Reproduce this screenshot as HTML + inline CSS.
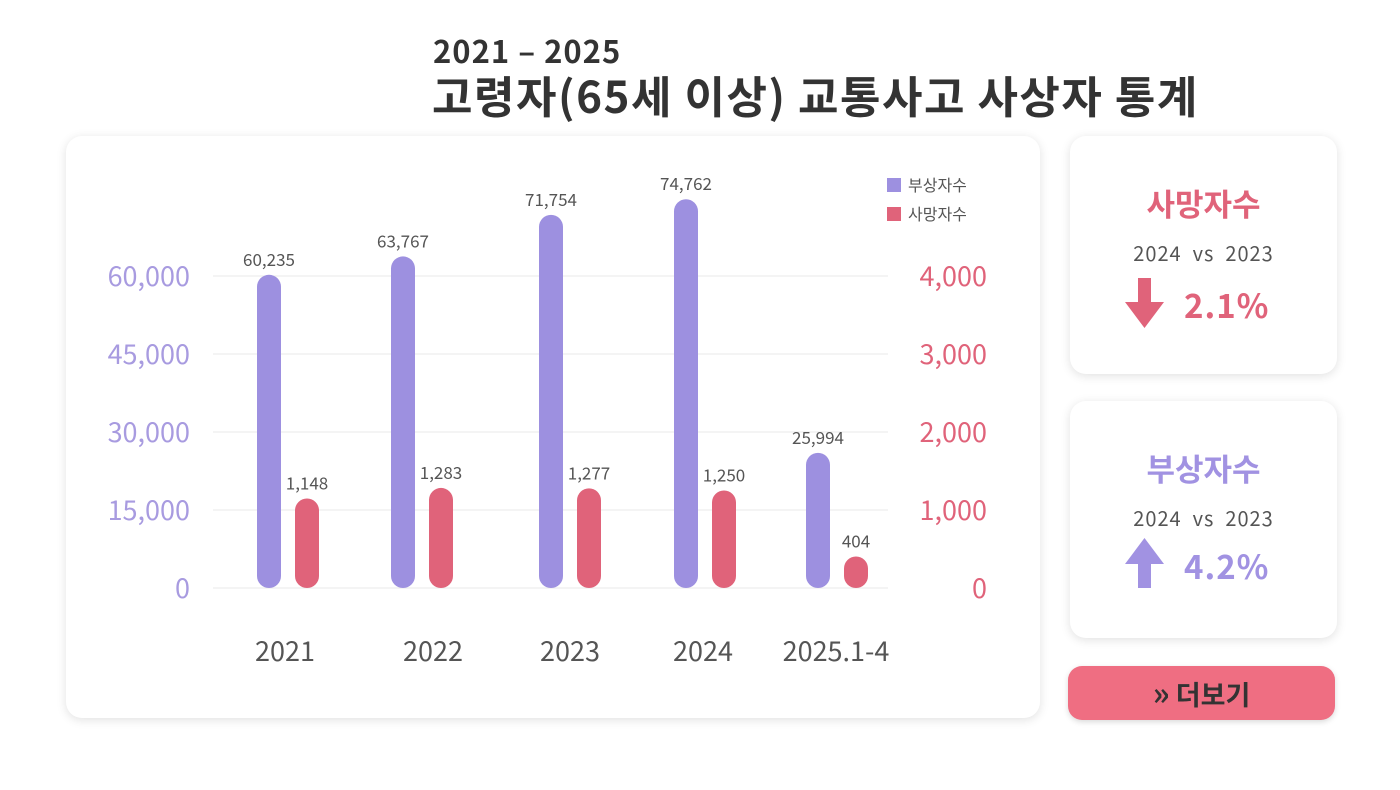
<!DOCTYPE html>
<html><head><meta charset="utf-8">
<style>
body{margin:0;width:1400px;height:790px;background:#fff;font-family:"Liberation Sans","Noto Sans CJK KR",sans-serif;position:relative;overflow:hidden}
.abs{position:absolute}
.card{position:absolute;background:#fff;border-radius:16px;box-shadow:0 2px 10px rgba(0,0,0,0.12)}
</style></head><body>
<div class="abs" style="left:433px;top:27px;font-size:31px;font-weight:bold;color:#333;letter-spacing:1px;font-family:'Noto Sans CJK KR',sans-serif">2021 – 2025</div>
<div class="abs" style="left:432px;top:62px;font-size:44px;font-weight:bold;color:#333;letter-spacing:1.5px;font-family:'Noto Sans CJK KR',sans-serif;white-space:nowrap">고령자(65세 이상) 교통사고 사상자 통계</div>
<div class="card" style="left:66px;top:136px;width:974px;height:582px"></div>
<svg class="abs" style="left:0;top:0" width="1400" height="790" id="chart"></svg>

<div class="card" style="left:1070px;top:136px;width:267px;height:238px;text-align:center;font-family:'Noto Sans CJK KR',sans-serif">
<div style="position:absolute;top:44px;width:100%;font-size:31px;font-weight:bold;color:#e0637a">사망자수</div>
<div style="position:absolute;top:102px;width:100%;font-size:20px;color:#555;letter-spacing:1px">2024 &nbsp;vs &nbsp;2023</div>
<svg style="position:absolute;left:55px;top:142px" width="40" height="50"><rect x="13" y="0" width="13" height="26" fill="#e0637a"/><polygon points="0,24 39,24 19.5,50" fill="#e0637a"/></svg>
<div style="position:absolute;left:114px;top:144px;font-size:33px;font-weight:bold;color:#e0637a;letter-spacing:1px">2.1%</div>
</div>

<div class="card" style="left:1070px;top:401px;width:267px;height:237px;text-align:center;font-family:'Noto Sans CJK KR',sans-serif">
<div style="position:absolute;top:44px;width:100%;font-size:31px;font-weight:bold;color:#a192e2">부상자수</div>
<div style="position:absolute;top:102px;width:100%;font-size:20px;color:#555;letter-spacing:1px">2024 &nbsp;vs &nbsp;2023</div>
<svg style="position:absolute;left:55px;top:137px" width="40" height="50"><polygon points="0,26 39,26 19.5,0" fill="#a192e2"/><rect x="13" y="24" width="13" height="26" fill="#a192e2"/></svg>
<div style="position:absolute;left:114px;top:140px;font-size:33px;font-weight:bold;color:#a192e2;letter-spacing:1px">4.2%</div>
</div>

<div style="position:absolute;left:1068px;top:666px;width:267px;height:54px;background:#ef6e82;border-radius:14px;box-shadow:0 2px 6px rgba(0,0,0,0.15);text-align:center;line-height:52px;font-size:27px;font-weight:bold;color:#333;font-family:'Noto Sans CJK KR',sans-serif"><span style="font-size:32px">»</span> 더보기</div>

<script>
const categories=["2021","2022","2023","2024","2025.1-4"];
const injured=[60235,63767,71754,74762,25994];
const deaths=[1148,1283,1277,1250,404];
const leftTicks=[0,15000,30000,45000,60000];
const rightTicks=[0,1000,2000,3000,4000];
const svg=document.getElementById('chart');
const NS='http://www.w3.org/2000/svg';
const base=588, top0=276;
const yL=v=>base-(v/60000)*(base-top0);
const yR=v=>base-(v/4000)*(base-top0);
const barCenter=i=>[288,422,570,705,837][i];
const labelCenter=i=>[285,433,570,703,836][i];
function mk(tag,attrs,text){const e=document.createElementNS(NS,tag);for(const k in attrs)e.setAttribute(k,attrs[k]);if(text!==undefined)e.textContent=text;svg.appendChild(e);return e;}
const F='Noto Sans CJK KR, sans-serif';
leftTicks.forEach(t=>{
  const g=mk('line',{x1:213,x2:888,y1:yL(t),y2:yL(t),stroke:'#e8e8e8','stroke-width':1});
  
  
  const l=mk('text',{x:190,y:yL(t)+10,'text-anchor':'end','font-size':27,fill:'#a89be0','font-family':F},t.toLocaleString('en-US'));
  
  
});
rightTicks.forEach(t=>{
  const l=mk('text',{x:987,y:yR(t)+10,'text-anchor':'end','font-size':27,fill:'#e0637a','font-family':F},t.toLocaleString('en-US'));
  
  
});
categories.forEach((c,i)=>{
  const cx=barCenter(i);
  const px=cx-19, rx=cx+19;
  const yt=yL(injured[i]);
  const b=mk('rect',{x:px-12,y:yt,width:24,height:base-yt,rx:12,fill:'#9d90e0'});
  
  
  const bl=mk('text',{x:px,y:yt-9,'text-anchor':'middle','font-size':17,fill:'#555','font-family':F},injured[i].toLocaleString('en-US'));
  
  
  const yd=yR(deaths[i]);
  const r=mk('rect',{x:rx-12,y:yd,width:24,height:base-yd,rx:12,fill:'#e0637a'});
  
  
  const rl=mk('text',{x:rx,y:yd-9,'text-anchor':'middle','font-size':17,fill:'#555','font-family':F},deaths[i].toLocaleString('en-US'));
  
  
  const cl=mk('text',{x:labelCenter(i),y:661,'text-anchor':'middle','font-size':27,fill:'#555','font-family':F},c);
  
  
});
const legend=[["부상자수","#9d90e0"],["사망자수","#e0637a"]];
legend.forEach((l,i)=>{
  const s=mk('rect',{x:887,y:178+i*29,width:14,height:14,fill:l[1]});
  
  
  const t=mk('text',{x:908,y:191+i*29,'font-size':16,fill:'#555','font-family':F},l[0]);
  
  
});
</script>
</body></html>
